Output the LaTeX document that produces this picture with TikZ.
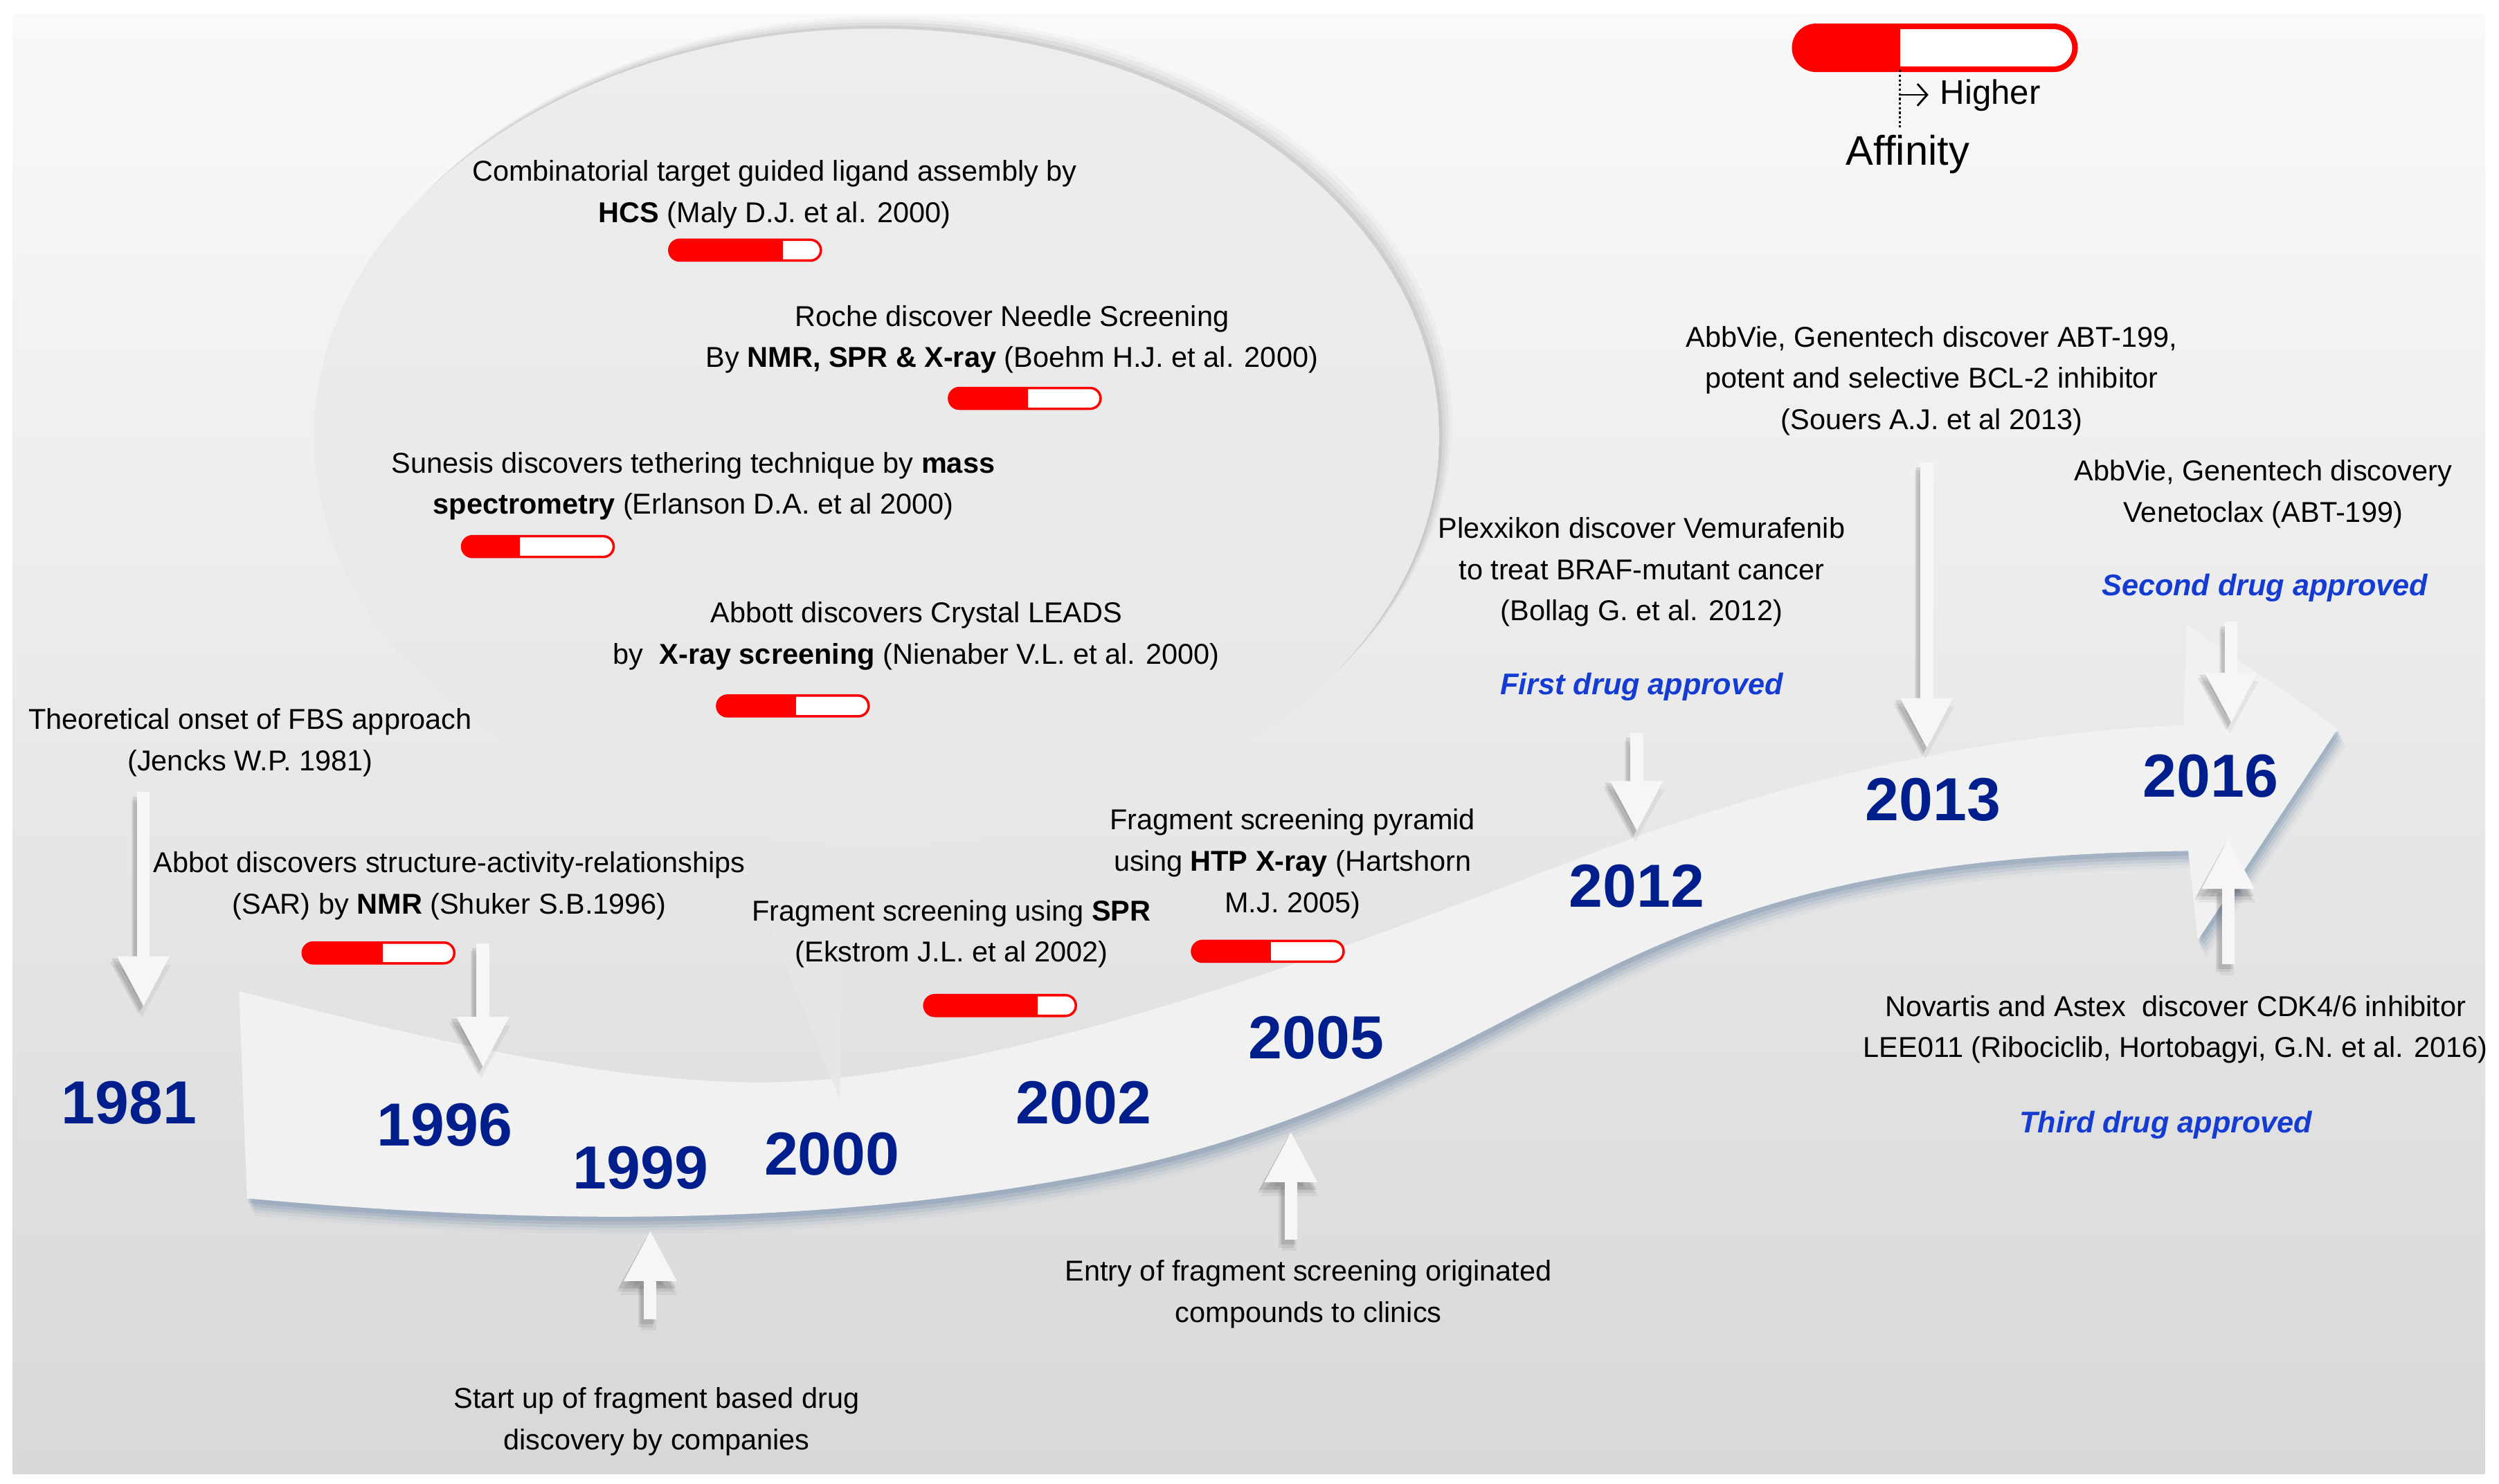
\documentclass[tikz,border=0pt]{standalone}
\usepackage{fontspec}
\setmainfont{Liberation Sans}
\usetikzlibrary{arrows.meta,shapes.misc}
\definecolor{bgtop}{RGB}{249,249,249}
\definecolor{bgbot}{RGB}{216,216,216}
\definecolor{ribbonfill}{RGB}{241,241,241}
\definecolor{ribbonshadow}{RGB}{95,125,160}
\definecolor{bubtop}{RGB}{237,237,237}
\definecolor{bubbot}{RGB}{231,231,231}
\definecolor{yearblue}{RGB}{0,30,140}
\definecolor{apprblue}{RGB}{20,60,210}
\definecolor{barred}{RGB}{255,0,0}
\definecolor{arrowwhite}{RGB}{246,246,246}
\newcommand\whitearrow[2]{%
  \foreach \sx/\sy/\op in {-2/3/0.10,-3/5/0.07,-1/7/0.05}{%
    \draw[shadowarrow,opacity=\op] ([shift={(\sx,\sy)}]#1) -- ([shift={(\sx,\sy)}]#2);}%
  \draw[fatarrow] (#1) -- (#2);}
\begin{document}
\begin{tikzpicture}[x=0.02302cm,y=-0.02302cm,
  txt/.style={align=center,font=\fontsize{11.8pt}{17pt}\selectfont,inner sep=0pt,text=black},
  year/.style={font=\fontsize{25pt}{28pt}\selectfont\bfseries,text=yearblue,inner sep=0pt},
  appr/.style={font=\fontsize{12.3pt}{15pt}\selectfont\bfseries\itshape,text=apprblue,inner sep=0pt},
  affbar/.style={rounded rectangle,draw=barred,line width=1pt,fill=white,
    minimum width=2.19cm,minimum height=0.30cm,inner sep=0pt,
    path picture={\fill[barred] (path picture bounding box.south west) rectangle ([xshift=#1]path picture bounding box.north west);}},
  fatarrow/.style={draw=arrowwhite,line width=5.2pt,-{Triangle[width=20.2pt,length=20.9pt]}},
  shadowarrow/.style={draw=black,line width=6pt,-{Triangle[width=22pt,length=22pt]}}
]
\useasboundingbox (0,0) rectangle (1568,931);
\fill[white] (0,0) rectangle (1568,931);
\shade[top color=bgtop,bottom color=bgbot] (8,9) rectangle (1559,925);

% ribbon shadow
\foreach \sx/\sy/\op in {1/3/0.20,2/5/0.16,3/7/0.12,4/9/0.08,5/11/0.05}{
\fill[ribbonshadow,opacity=\op,shift={(\sx,\sy)}] (150,622) -- (155,752)
  .. controls (350,770) and (520,768) .. (680,738)
  .. controls (830,710) and (920,650) .. (1000,612)
  .. controls (1100,562) and (1200,536) .. (1373,534) -- (1379,590) -- (1467,457) -- (1372,392) -- (1370,455)
  .. controls (1250,460) and (1130,488) .. (1027,525)
  .. controls (880,580) and (700,655) .. (530,676)
  .. controls (420,690) and (280,655) .. (150,622) -- cycle;}
% ribbon
\fill[ribbonfill] (150,622) -- (155,752)
  .. controls (350,770) and (520,768) .. (680,738)
  .. controls (830,710) and (920,650) .. (1000,612)
  .. controls (1100,562) and (1200,536) .. (1373,534) -- (1379,590) -- (1467,457) -- (1372,392) -- (1370,455)
  .. controls (1250,460) and (1130,488) .. (1027,525)
  .. controls (880,580) and (700,655) .. (530,676)
  .. controls (420,690) and (280,655) .. (150,622) -- cycle;

% speech bubble
\foreach \d/\op in {8/0.025,6/0.035,4/0.045,2/0.06}{
  \fill[black,opacity=\op] (550+\d,274-\d) ellipse [x radius=353,y radius=256];}
\shade[top color=bubtop,bottom color=bubbot] (550,274) ellipse [x radius=353,y radius=256];
\fill[bubbot,opacity=0.85] (455,512) -- (527,690) -- (529,524) -- cycle;

% legend
\node[affbar=1.52cm,minimum width=4.05cm,minimum height=0.62cm,line width=2.3pt] (legbar) at (1214,30) {};
\coordinate (legtop) at (1192,44);
\coordinate (legbot) at (1192,80);
\draw[densely dotted,line width=0.9pt] (legtop) -- (legbot);
\coordinate (harrS) at (1192,59.5);
\coordinate (harrE) at (1210,59.5);
\draw[line width=0.8pt,-{Straight Barb[length=4pt,width=9pt]}] (harrS) -- (harrE);
\node[anchor=west,font=\fontsize{14pt}{16pt}\selectfont,inner sep=0pt] (higher) at (1217,60) {Higher};
\node[font=\fontsize{17pt}{20pt}\selectfont,inner sep=0pt] (affinity) at (1197,97) {Affinity};

% white arrows
\coordinate (a1s) at (90,497);   \coordinate (a1e) at (90,632);
\coordinate (a2s) at (303,592);  \coordinate (a2e) at (303,670);
\coordinate (a3s) at (408,828);  \coordinate (a3e) at (408,772);
\coordinate (a4s) at (810,778);  \coordinate (a4e) at (810,710);
\coordinate (a5s) at (1027,460); \coordinate (a5e) at (1027,522);
\coordinate (a6s) at (1209,290); \coordinate (a6e) at (1209,470);
\coordinate (a7s) at (1400,390); \coordinate (a7e) at (1400,454);
\coordinate (a8s) at (1398,605); \coordinate (a8e) at (1398,526);
\whitearrow{a1s}{a1e}
\whitearrow{a2s}{a2e}
\whitearrow{a3s}{a3e}
\whitearrow{a4s}{a4e}
\whitearrow{a5s}{a5e}
\whitearrow{a6s}{a6e}
\whitearrow{a7s}{a7e}
\whitearrow{a8s}{a8e}

% years
\node[year] (y1981) at (81,692) {1981};
\node[year] (y1996) at (279,706) {1996};
\node[year] (y1999) at (402,733) {1999};
\node[year] (y2000) at (522,724) {2000};
\node[year] (y2002) at (680,692) {2002};
\node[year] (y2005) at (826,651) {2005};
\node[year] (y2012) at (1027,556) {2012};
\node[year] (y2013) at (1213,502) {2013};
\node[year] (y2016) at (1387,487) {2016};

% texts
\node[txt] (tJencks) at (157,466) {Theoretical onset of FBS approach\\(Jencks W.P. 1981)};
\node[txt] (tSAR) at (282,556) {Abbot discovers structure-activity-relationships\\(SAR) by \textbf{NMR} (Shuker S.B.1996)};
\node[txt] (tHCS) at (486,122) {Combinatorial target guided ligand assembly by\\\textbf{HCS} (Maly D.J. et al. 2000)};
\node[txt] (tRoche) at (635,213) {Roche discover Needle Screening\\By \textbf{NMR, SPR \& X-ray} (Boehm H.J. et al. 2000)};
\node[txt] (tSunesis) at (435,305) {Sunesis discovers tethering technique by \textbf{mass}\\\textbf{spectrometry} (Erlanson D.A. et al 2000)};
\node[txt] (tAbbott) at (575,399) {Abbott discovers Crystal LEADS\\by \ \textbf{X-ray screening} (Nienaber V.L. et al. 2000)};
\node[txt] (tSPR) at (597,586) {Fragment screening using \textbf{SPR}\\(Ekstrom J.L. et al 2002)};
\node[txt] (tHTP) at (811,542) {Fragment screening pyramid\\using \textbf{HTP X-ray} (Hartshorn\\M.J. 2005)};
\node[txt] (tPlex) at (1030,359) {Plexxikon discover Vemurafenib\\to treat BRAF-mutant cancer\\(Bollag G. et al. 2012)};
\node[appr] (tFirst) at (1030,431) {First drug approved};
\node[txt] (tAbbVie) at (1212,239) {AbbVie, Genentech discover ABT-199,\\potent and selective BCL-2 inhibitor\\(Souers A.J. et al 2013)};
\node[txt] (tVenet) at (1420,310) {AbbVie, Genentech discovery\\Venetoclax (ABT-199)};
\node[appr] (tSecond) at (1421,369) {Second drug approved};
\node[txt] (tNov) at (1365,646) {Novartis and Astex \ discover CDK4/6 inhibitor\\LEE011 (Ribociclib, Hortobagyi, G.N. et al. 2016)};
\node[appr] (tThird) at (1359,706) {Third drug approved};
\node[txt] (tEntry) at (821,812) {Entry of fragment screening originated\\compounds to clinics};
\node[txt] (tStart) at (412,892) {Start up of fragment based drug\\discovery by companies};

% affinity bars
\node[affbar=1.16cm] (bSAR) at (237.5,598) {};
\node[affbar=1.64cm] (bHCS) at (467.5,157) {};
\node[affbar=1.14cm] (bRoche) at (643,250) {};
\node[affbar=0.83cm] (bSunesis) at (337.5,343) {};
\node[affbar=1.14cm] (bAbbott) at (497.5,443) {};
\node[affbar=1.64cm] (bSPR) at (627.5,631) {};
\node[affbar=1.14cm] (bHTP) at (795.5,597) {};
\end{tikzpicture}
\end{document}
